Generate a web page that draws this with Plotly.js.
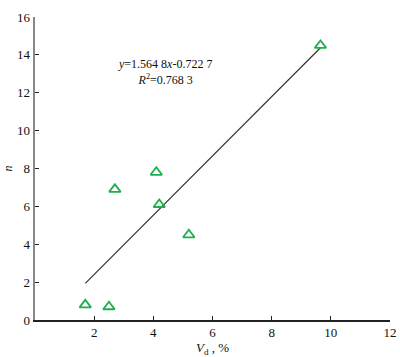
<!DOCTYPE html>
<html>
<head>
<meta charset="utf-8">
<script src="https://cdn.plot.ly/plotly-3.0.1.min.js"></script>
<style>html,body{margin:0;padding:0;background:#fff;}#chart{width:400px;height:357px;}</style>
</head>
<body>
<div id="chart"></div>
<script>
// Data
const vd = [1.7, 2.5, 2.7, 4.1, 4.2, 5.2, 9.65];
const nVals = [0.8, 0.7, 6.9, 7.8, 6.1, 4.5, 14.5];
const slope = 1.5648;
const intercept = -0.7227;
const fitX = [1.7, 9.65];
const fitY = fitX.map(x => slope * x + intercept);
const xTicks = [2, 4, 6, 8, 10, 12];
const yTicks = [0, 2, 4, 6, 8, 10, 12, 14, 16];

const serif = '"Liberation Serif", "Times New Roman", serif';
const font = {family: serif, size: 13, color: '#111'};

const traces = [
  {x: fitX, y: fitY, mode: 'lines', line: {color: '#333', width: 1.2}, hoverinfo: 'skip'},
  {x: vd, y: nVals, mode: 'markers',
   marker: {symbol: 'triangle-up-open', size: 10, color: '#1fae4f', line: {width: 1.8, color: '#1fae4f'}}}
];

const layout = {
  width: 400, height: 357,
  margin: {l: 35, r: 10, t: 17, b: 37},
  paper_bgcolor: '#fff', plot_bgcolor: '#fff',
  showlegend: false,
  font: font,
  xaxis: {
    range: [0, 12], tickvals: xTicks, ticktext: xTicks.map(String),
    showgrid: false, zeroline: false, showline: true, linecolor: '#222', linewidth: 1.5,
    ticks: 'inside', ticklen: 4, tickcolor: '#222',
    tickfont: font,
    title: {text: '<i>V</i><sub>d</sub> , %', font: font, standoff: 2}
  },
  yaxis: {
    range: [0, 16], tickvals: yTicks, ticktext: yTicks.map(String),
    showgrid: false, zeroline: false, showline: true, linecolor: '#888', linewidth: 2.5,
    ticks: 'inside', ticklen: 4, tickcolor: '#222',
    tickfont: font,
    title: {text: '<i>n</i>', font: {family: serif, size: 12, color: '#111'}, standoff: 2}
  },
  annotations: [{
    xref: 'x', yref: 'y', x: 4.4, y: 13.1,
    text: '<i>y</i>=1.564 8<i>x</i>-0.722 7<br><i>R</i><sup>2</sup>=0.768 3',
    showarrow: false, align: 'center',
    font: {family: serif, size: 12, color: '#111'}
  }]
};

Plotly.newPlot('chart', traces, layout, {displayModeBar: false, staticPlot: true});
</script>
</body>
</html>
